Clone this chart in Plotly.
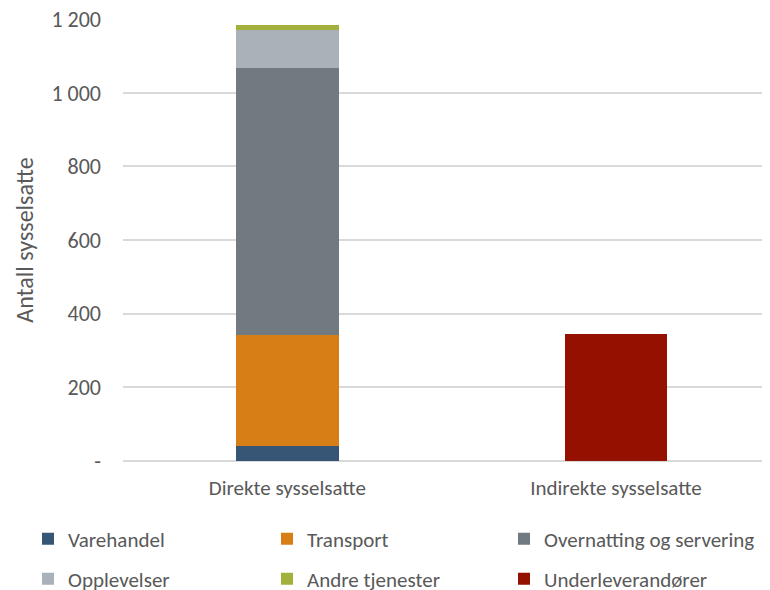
import plotly.graph_objects as go

categories = ["Direkte sysselsatte", "Indirekte sysselsatte"]
series_names = ["Varehandel", "Transport", "Overnatting og servering",
                "Opplevelser", "Andre tjenester", "Underleverandører"]
varehandel = [41, None]
transport = [301, None]
overnatting = [725, None]
opplevelser = [103, None]
andre = [14, None]
underleverandorer = [None, 345]
series_values = [varehandel, transport, overnatting, opplevelser, andre, underleverandorer]
colors = ["#375675", "#D87E17", "#717981", "#AAB1B8", "#A4B03C", "#941100"]

tick_vals = [0, 200, 400, 600, 800, 1000, 1200]
tick_text = ["-", "200", "400", "600", "800", "1 000", "1 200"]

FONT = "Carlito, Calibri, Lato, sans-serif"
TXT = "#595959"

legend_ids = ["legend2", "legend3", "legend4", "legend5", "legend6", "legend7"]
legend_x = [20, 259, 496, 20, 259, 496]
legend_y = [531, 531, 531, 571, 571, 571]

fig = go.Figure()
for name, vals, col, lg in zip(series_names, series_values, colors, legend_ids):
    fig.add_trace(go.Bar(x=categories, y=vals, name=name, marker_color=col,
                         marker_line_width=0, width=0.313, legend=lg))

legends = {}
for lg, lx, ly in zip(legend_ids, legend_x, legend_y):
    legends[lg] = dict(orientation="h", xref="container", yref="container",
                       x=lx / 770, y=1 - ly / 590, xanchor="left", yanchor="middle",
                       font=dict(family=FONT, size=21, color=TXT),
                       bgcolor="rgba(0,0,0,0)", itemwidth=30)

fig.update_layout(
    width=770, height=590,
    margin=dict(l=115, r=0, t=11, b=137, autoexpand=False),
    paper_bgcolor="white", plot_bgcolor="white",
    barmode="stack",
    showlegend=True,
    font=dict(family=FONT, size=21, color=TXT),
    xaxis=dict(range=[-0.5, 1.493], showgrid=False, showline=False, ticks="",
               tickfont=dict(family=FONT, size=21, color=TXT), ticklabelstandoff=12),
    yaxis=dict(range=[0, 1200.5], tickvals=tick_vals, ticktext=tick_text,
               showgrid=True, gridcolor="#D9D9D9", gridwidth=1.5,
               zeroline=True, zerolinecolor="#D9D9D9", zerolinewidth=1.5,
               showline=False, ticks="", ticklabelstandoff=21,
               ticklabeloverflow="allow",
               tickfont=dict(family=FONT, size=22, color=TXT),
               title=dict(text="Antall sysselsatte", standoff=11,
                          font=dict(family=FONT, size=24, color=TXT))),
    **legends,
)

fig.write_html("out.html")
